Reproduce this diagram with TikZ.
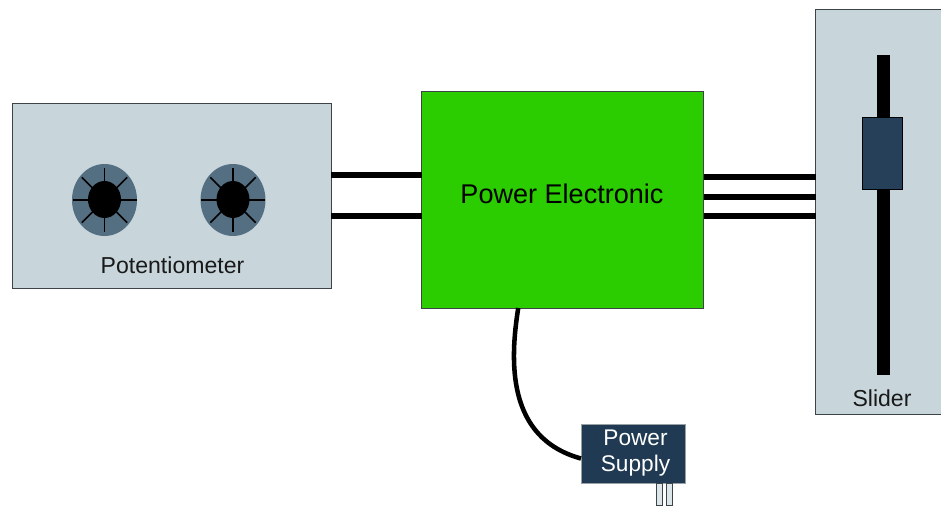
\documentclass[tikz,border=0pt]{standalone}
\usepackage{fontspec}
\setmainfont{Liberation Sans}
\usetikzlibrary{shapes,calc}
\usetikzlibrary{positioning}
\definecolor{clrPanel}{HTML}{C8D6DC}
\definecolor{clrKnob}{HTML}{546E82}
\definecolor{clrGreen}{HTML}{2BCC00}
\definecolor{clrThumb}{HTML}{264059}
\definecolor{clrSupply}{HTML}{1F3A52}
\definecolor{clrPin}{HTML}{DCE6EA}
\definecolor{clrBorders}{HTML}{3C4448}
\tikzstyle{box_style}=[draw=clrBorders, line width=0.75pt, inner sep=0pt, outer sep=0pt, anchor=center, text centered]
\tikzstyle{panel}=[box_style, fill=clrPanel]
\tikzstyle{label_text}=[inner sep=0pt, font=\fontsize{17.3}{20}\selectfont, text=black!90]
\tikzstyle{knob}=[ellipse, fill=clrKnob, inner sep=0pt, minimum width=48.75pt, minimum height=54pt]
\tikzstyle{knobcore}=[ellipse, fill=black, inner sep=0pt, minimum width=24.75pt, minimum height=27.75pt]
\tikzstyle{spoke}=[line width=1.2pt, black]
\tikzstyle{wire}=[line width=4.2pt, black]
\begin{document}
\begin{tikzpicture}[x=0.75pt,y=-0.75pt]
		\useasboundingbox (0,0) rectangle (941,506);

		\node[panel, minimum width=239.25pt, minimum height=138pt] (pot) at (171.5,196) {};
		\node[box_style, fill=clrGreen, minimum width=211.5pt, minimum height=162pt] (power) at (562.5,200) {};
		\node[panel, minimum width=94.5pt, minimum height=303pt] (slider) at (878.5,212) {};

		\node[label_text, font=\fontsize{20.3}{24}\selectfont, text=black] (powerlabel) at (562,194) {Power Electronic};
		\node[label_text] (potlabel) at (172.5,265.5) {Potentiometer};
		\node[label_text] (sliderlabel) at (882,398.5) {Slider};

		% knobs
		\foreach \name/\cx in {knobA/104.5, knobB/233} {
			\node[knob] (\name) at (\cx,200) {};
			\foreach \ang in {0,45,...,315}
				\draw[spoke] (\name.center) -- ++(\ang:32);
			\node[knobcore] (\name core) at (\cx,199.5) {};
		}

		% wires
		\foreach \y in {175,216}
			\draw[wire] (pot.east |- 0,\y) -- (power.west |- 0,\y);
		\foreach \y in {177,197,216}
			\draw[wire] (power.east |- 0,\y) -- (slider.west |- 0,\y);

		% slider
		\node[fill=black, inner sep=0pt, minimum width=9.75pt, minimum height=240pt] (track) at (883.5,215) {};
		\node[box_style, draw=black, fill=clrThumb, minimum width=30pt, minimum height=53.25pt] (thumb) at (882,153.5) {};

		% supply
		\node[box_style, draw=clrPin!70!black, fill=clrSupply, minimum width=78pt, minimum height=44.25pt] (supply) at (633,453.5) {};
		\node[inner sep=0pt, align=center, text=white, font=\fontsize{17}{19.5}\selectfont] (supplylabel) at (635.5,453.5) {Power\\Supply};
		\node[draw=clrBorders, line width=0.5pt, fill=clrPin, inner sep=0pt, minimum width=4.5pt, minimum height=16.5pt, below=0pt of supply.south, xshift=19.9pt] (pinA) {};
		\node[draw=clrBorders, line width=0.5pt, fill=clrPin, inner sep=0pt, minimum width=4.5pt, minimum height=16.5pt, right=2.5pt of pinA] (pinB) {};

		\draw[line width=3.4pt, black] ($(power.south west)!0.343!(power.south east)$) .. controls (510,360) and (506,438) .. (supply.west |- 0,458.5);

	\end{tikzpicture}
\end{document}
